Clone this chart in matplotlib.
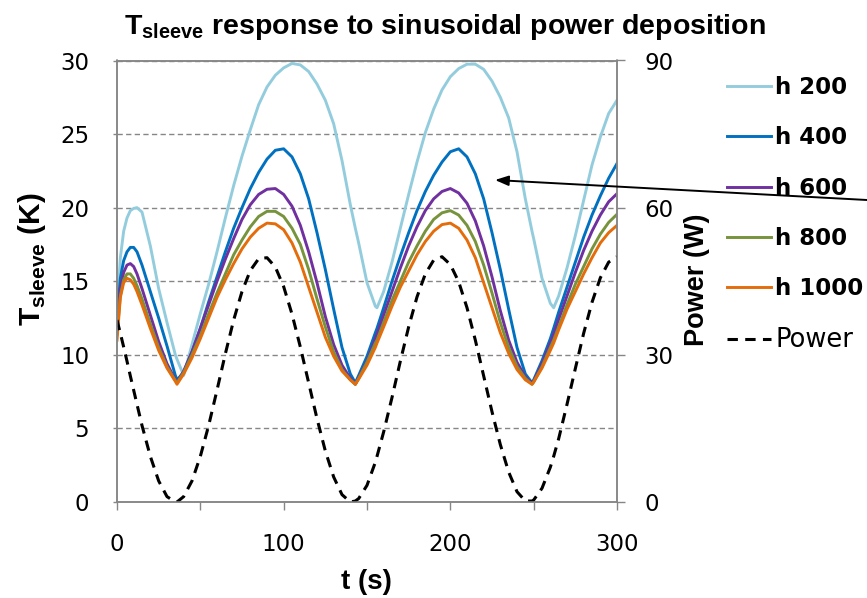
import matplotlib
matplotlib.use("Agg")
import matplotlib.pyplot as plt
from matplotlib import font_manager

# time axis (s) and sleeve temperature rise (K) for each heat transfer coefficient
TIME_S = [0, 2, 4, 6, 8, 10, 12, 15, 20, 25, 30, 35, 36, 40, 45, 50, 55, 60, 65, 70,
          75, 80, 85, 90, 95, 100, 105, 110, 115, 120, 125, 130, 135, 140, 143, 145, 150, 155, 156, 160,
          165, 170, 175, 180, 185, 190, 195, 200, 205, 210, 215, 220, 225, 230, 235, 240, 245, 249, 250, 255,
          260, 262, 265, 270, 275, 280, 285, 290, 295, 300]

H200 = [12.8, 16.6, 18.4, 19.3, 19.8, 19.95, 20.0, 19.7, 17.4, 14.5, 12.2, 10.0, 9.7, 8.6, 10.7, 12.8, 14.8, 17.0, 19.3, 21.5,
        23.5, 25.3, 27.0, 28.2, 29.0, 29.5, 29.8, 29.7, 29.25, 28.4, 27.3, 25.7, 23.2, 20.2, 18.6, 17.6, 14.9, 13.3, 13.2, 14.3,
        16.3, 18.6, 20.9, 23.1, 25.1, 26.7, 28.0, 28.9, 29.45, 29.75, 29.75, 29.4, 28.6, 27.5, 26.1, 23.8, 20.6, 18.4, 17.9, 15.2,
        13.5, 13.2, 14.0, 15.9, 18.1, 20.5, 22.9, 24.8, 26.4, 27.3]

H400 = [12.3, 15.2, 16.4, 17.0, 17.3, 17.3, 17.0, 16.1, 14.3, 12.5, 10.6, 8.6, 8.3, 8.8, 10.2, 11.8, 13.6, 15.3, 17.0, 18.6,
        20.0, 21.3, 22.4, 23.3, 23.9, 24.0, 23.45, 22.3, 20.6, 18.3, 15.8, 13.1, 10.5, 8.7, 8.1, 8.6, 9.9, 11.5, 11.8, 13.2,
        15.0, 16.7, 18.3, 19.8, 21.1, 22.2, 23.1, 23.8, 24.0, 23.45, 22.3, 20.6, 18.3, 15.8, 13.1, 10.5, 8.7, 8.1, 8.3, 9.6,
        11.1, 11.8, 12.9, 14.6, 16.3, 18.0, 19.5, 20.8, 22.0, 23.0]

H600 = [11.8, 14.5, 15.6, 16.1, 16.2, 16.0, 15.5, 14.5, 12.7, 10.9, 9.4, 8.3, 8.15, 8.9, 10.2, 11.8, 13.4, 15.0, 16.5, 17.9,
        19.2, 20.2, 20.9, 21.25, 21.3, 20.9, 20.1, 18.8, 17.0, 14.9, 12.6, 10.7, 9.3, 8.4, 8.0, 8.45, 9.6, 11.1, 11.4, 12.7,
        14.3, 15.9, 17.4, 18.7, 19.8, 20.6, 21.1, 21.3, 21.0, 20.3, 19.1, 17.4, 15.3, 13.0, 11.0, 9.5, 8.5, 8.05, 8.2, 9.4,
        10.8, 11.4, 12.4, 14.0, 15.6, 17.1, 18.4, 19.5, 20.4, 20.95]

H800 = [11.4, 14.0, 15.1, 15.5, 15.5, 15.2, 14.7, 13.8, 12.1, 10.5, 9.2, 8.25, 8.1, 8.8, 10.0, 11.3, 12.8, 14.2, 15.5, 16.8,
        17.8, 18.7, 19.4, 19.75, 19.75, 19.4, 18.6, 17.5, 15.8, 13.8, 11.9, 10.2, 9.0, 8.3, 8.0, 8.4, 9.5, 10.8, 11.0, 12.2,
        13.7, 15.0, 16.3, 17.4, 18.4, 19.2, 19.65, 19.8, 19.5, 18.8, 17.7, 16.1, 14.2, 12.2, 10.5, 9.2, 8.4, 8.0, 8.15, 9.2,
        10.5, 11.0, 11.9, 13.4, 14.8, 16.0, 17.2, 18.2, 19.0, 19.55]

H1000 = [11.0, 13.9, 14.9, 15.2, 15.1, 14.8, 14.3, 13.4, 11.8, 10.3, 9.1, 8.2, 8.0, 8.7, 9.8, 11.1, 12.5, 13.9, 15.1, 16.2,
         17.2, 18.0, 18.6, 18.95, 18.9, 18.5, 17.6, 16.3, 14.6, 12.9, 11.2, 9.9, 8.9, 8.3, 8.0, 8.35, 9.3, 10.5, 10.8, 11.9,
         13.3, 14.6, 15.7, 16.8, 17.7, 18.4, 18.85, 18.95, 18.6, 17.8, 16.6, 14.9, 13.2, 11.5, 10.1, 9.0, 8.3, 8.0, 8.15, 9.1,
         10.3, 10.8, 11.7, 13.1, 14.3, 15.5, 16.6, 17.6, 18.3, 18.8]

POWER_W = [37.1, 34.4, 31.6, 28.7, 25.7, 22.8, 19.9, 15.6, 9.3, 4.3, 1.1, 0.0, 0.0, 1.1, 4.3, 9.3, 15.6, 22.8, 30.2, 37.1,
           42.9, 47.2, 49.6, 49.8, 47.9, 43.9, 38.3, 31.6, 24.3, 17.0, 10.4, 5.1, 1.5, 0.0, 0.2, 0.7, 3.4, 8.1, 9.3, 14.3,
           21.3, 28.7, 35.7, 41.8, 46.5, 49.3, 50.0, 48.4, 44.9, 39.6, 33.0, 25.7, 18.4, 11.7, 6.1, 2.1, 0.2, 0.2, 0.4, 2.8,
           7.1, 9.3, 12.9, 19.9, 27.2, 34.4, 40.7, 45.7, 48.9, 50.0]

SERIES = [
    ("h 200", H200, "#93CDDD"),
    ("h 400", H400, "#0070C0"),
    ("h 600", H600, "#7030A0"),
    ("h 800", H800, "#77933C"),
    ("h 1000", H1000, "#E46C0A"),
]

X_TICKS = [0, 50, 100, 150, 200, 250, 300]
X_TICK_LABELS = ["0", "", "100", "", "200", "", "300"]
Y_TICKS = [0, 5, 10, 15, 20, 25, 30]
POWER_TICKS = [0, 30, 60, 90]

GRAY = "#868686"
W, H = 867, 598

names = {f.name for f in font_manager.fontManager.ttflist}
NARROW = "Liberation Sans Narrow" if "Liberation Sans Narrow" in names else "Liberation Sans"
plt.rcParams["font.family"] = "DejaVu Sans"
plt.rcParams["mathtext.fontset"] = "custom"
plt.rcParams["mathtext.rm"] = NARROW
plt.rcParams["mathtext.bf"] = f"{NARROW}:bold"

fig = plt.figure(figsize=(W / 100, H / 100), dpi=100)
ax = fig.add_axes([117 / W, 1 - 502 / H, 500 / W, 441.5 / H])
ax2 = ax.twinx()

handles = []
for label, values, color in SERIES:
    (line,) = ax.plot(TIME_S, values, color=color, lw=2.1, label=label, solid_joinstyle="round")
    handles.append(line)
(pline,) = ax2.plot(TIME_S, POWER_W, color="black", lw=2.2, dashes=(3.4, 2.4), label="Power")
handles.append(pline)

ax.set_xlim(0, 300)
ax.set_ylim(0, 30)
ax2.set_ylim(0, 90)
ax.set_xticks(X_TICKS)
ax.set_xticklabels(X_TICK_LABELS)
ax.set_yticks(Y_TICKS)
ax2.set_yticks(POWER_TICKS)

ax.yaxis.grid(True, color=GRAY, lw=1.0, dashes=(3.8, 2.4))
ax.set_axisbelow(True)
for a in (ax, ax2):
    for sp in a.spines.values():
        sp.set_color(GRAY)
        sp.set_linewidth(1.1)
ax.tick_params(axis="y", direction="out", length=3, width=1, color=GRAY, labelsize=16.5, pad=17)
ax.tick_params(axis="x", direction="out", length=6, width=1, color=GRAY, labelsize=16.5, pad=16)
ax2.tick_params(axis="y", direction="out", length=6, width=1, color=GRAY, labelsize=16.5, pad=14)

fig.text(445 / W, 1 - 34 / H, r"$\mathbf{T}_{\mathbf{sleeve}}$ response to sinusoidal power deposition",
         family=NARROW, weight="bold", size=20.5, ha="center", va="baseline")
fig.text(32 / W, 1 - 259 / H, r"$\mathbf{T}_{\mathbf{sleeve}}$ (K)", family=NARROW, weight="bold",
         size=21.5, rotation=90, ha="center", va="center")
fig.text(366 / W, 1 - 582 / H, "t (s)", family=NARROW, weight="bold", size=20, ha="center", va="center")
fig.text(697 / W, 1 - 280 / H, "Power (W)", family=NARROW, weight="bold", size=19.5,
         rotation=90, ha="center", va="center")

leg = ax2.legend(handles, [h.get_label() for h in handles], loc="upper left",
                 bbox_to_anchor=(727 / W, 1 - 76 / H), bbox_transform=fig.transFigure,
                 frameon=False, fontsize=16.5, handlelength=1.9, handletextpad=0.2,
                 labelspacing=1.19, borderpad=0, borderaxespad=0)
texts = leg.get_texts()
for txt in texts[:-1]:
    txt.set_fontweight("bold")
texts[-1].set_fontsize(18.5)

ax2.annotate("", xy=(495 / W, 1 - 180 / H), xytext=(1.0, 1 - 200 / H),
             xycoords="figure fraction", textcoords="figure fraction",
             arrowprops=dict(arrowstyle="-|>,head_length=0.8,head_width=0.3", color="black",
                             lw=1.4, shrinkA=0, shrinkB=0),
             annotation_clip=False, zorder=10)

fig.savefig("out.png", dpi=100)
